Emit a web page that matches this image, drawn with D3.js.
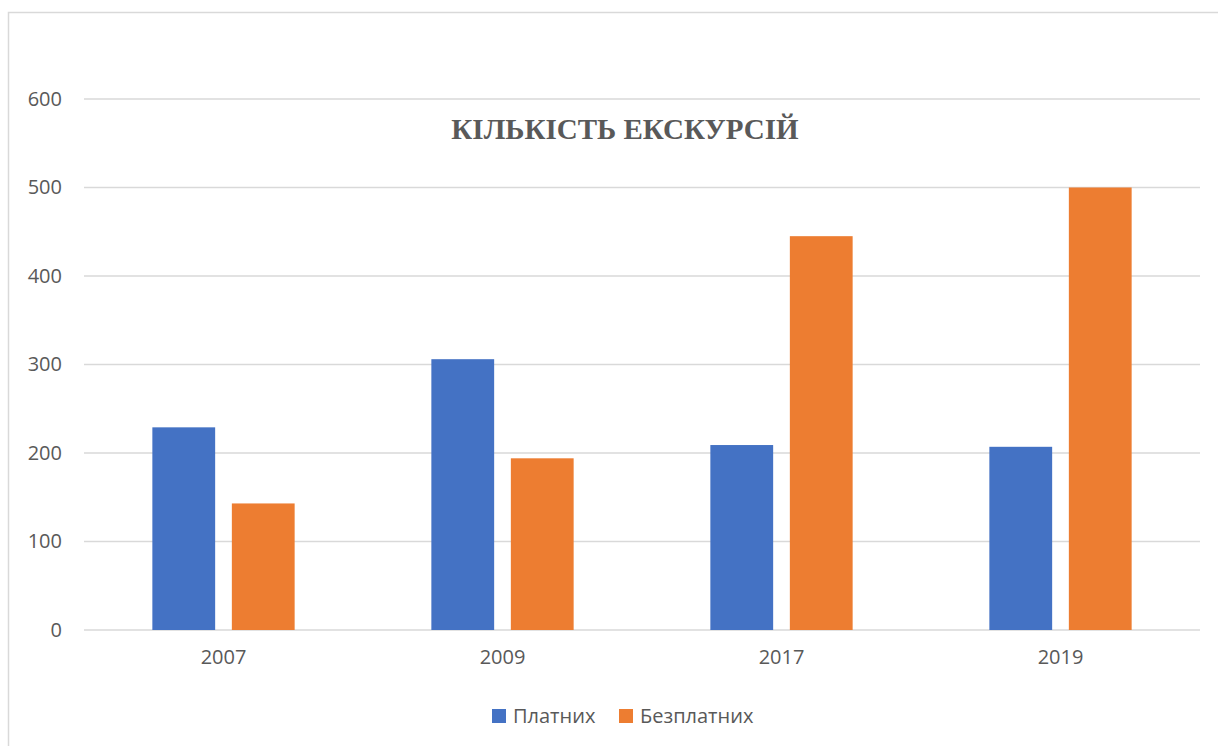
<!DOCTYPE html>
<html>
<head>
<meta charset="utf-8">
<script src="https://cdn.jsdelivr.net/npm/d3@7"></script>
<style>
  body { margin: 0; background: #fff; }
  .tick text { font-family: "Open Sans", sans-serif; fill: #595959; }
</style>
</head>
<body>
<div class="chart"></div>
<script>
var years = ["2007", "2009", "2017", "2019"];
var seriesNames = ["Платних", "Безплатних"];
var paid = [229, 306, 209, 207];
var free = [143, 194, 445, 500];
var yTicks = [0, 100, 200, 300, 400, 500, 600];
var colors = ["#4472c4", "#ed7d31"];

var W = 1218, H = 746;
var margin = { top: 99, right: 18, bottom: 116, left: 84 },
  width = W - margin.left - margin.right,
  height = H - margin.top - margin.bottom;

var svg = d3.select(".chart").append("svg")
  .attr("width", W)
  .attr("height", H);

// chart frame
svg.append("rect")
  .attr("x", 8.5).attr("y", 12.5)
  .attr("width", 1240).attr("height", 760)
  .attr("fill", "none")
  .attr("stroke", "#d9d9d9")
  .attr("stroke-width", 1.5);

var g = svg.append("g")
  .attr("transform", "translate(" + margin.left + "," + margin.top + ")");

var x0 = d3.scaleBand().domain(years).range([0, width]).paddingInner(0.49).paddingOuter(0.245);
var x1 = d3.scaleBand().domain(seriesNames).range([0, x0.bandwidth()]).paddingInner(0.21);
var y = d3.scaleLinear().domain([0, 600]).range([height, 0]);

// gridlines
g.selectAll(".grid")
  .data(yTicks)
  .enter().append("line")
    .attr("x1", 0).attr("x2", width)
    .attr("y1", function(d) { return y(d); })
    .attr("y2", function(d) { return y(d); })
    .attr("stroke", "#d9d9d9")
    .attr("stroke-width", 1.5);

var yAxis = g.append("g")
  .call(d3.axisLeft(y).tickValues(yTicks).tickSize(0).tickPadding(22));
yAxis.select(".domain").remove();
yAxis.selectAll("text").style("font-size", "20px");

var rows = years.map(function(yr, i) { return { year: yr, values: [paid[i], free[i]] }; });

var groups = g.selectAll(".grp")
  .data(rows)
  .enter().append("g")
    .attr("transform", function(d) { return "translate(" + x0(d.year) + ",0)"; });

groups.selectAll("rect")
  .data(function(d) { return d.values.map(function(v, j) { return { name: seriesNames[j], value: v, i: j }; }); })
  .enter().append("rect")
    .attr("x", function(d) { return x1(d.name); })
    .attr("y", function(d) { return y(d.value); })
    .attr("width", x1.bandwidth())
    .attr("height", function(d) { return height - y(d.value); })
    .attr("fill", function(d) { return colors[d.i]; });

var xScale = d3.scaleBand().domain(years).range([0, width]);
var xAxis = g.append("g")
  .attr("transform", "translate(0," + height + ")")
  .call(d3.axisBottom(xScale).tickSize(0).tickPadding(20));
xAxis.select(".domain").remove();
xAxis.selectAll("text").style("font-size", "20px");

// title
svg.append("text")
  .attr("x", 625)
  .attr("y", 139)
  .attr("text-anchor", "middle")
  .style("font-family", "'Liberation Serif', 'Times New Roman', serif")
  .style("font-weight", "bold")
  .style("font-size", "29px")
  .style("fill", "#595959")
  .text("КІЛЬКІСТЬ ЕКСКУРСІЙ");

// legend
var legendX = [492, 619];
var legend = svg.selectAll(".legend")
  .data(seriesNames)
  .enter().append("g")
    .attr("transform", function(d, i) { return "translate(" + legendX[i] + ",709)"; });
legend.append("rect")
  .attr("width", 14).attr("height", 14)
  .attr("fill", function(d, i) { return colors[i]; });
legend.append("text")
  .attr("x", 21).attr("y", 14)
  .style("font-family", "'Open Sans', sans-serif")
  .style("font-size", "20px")
  .style("fill", "#595959")
  .text(function(d) { return d; });
</script>
</body>
</html>
